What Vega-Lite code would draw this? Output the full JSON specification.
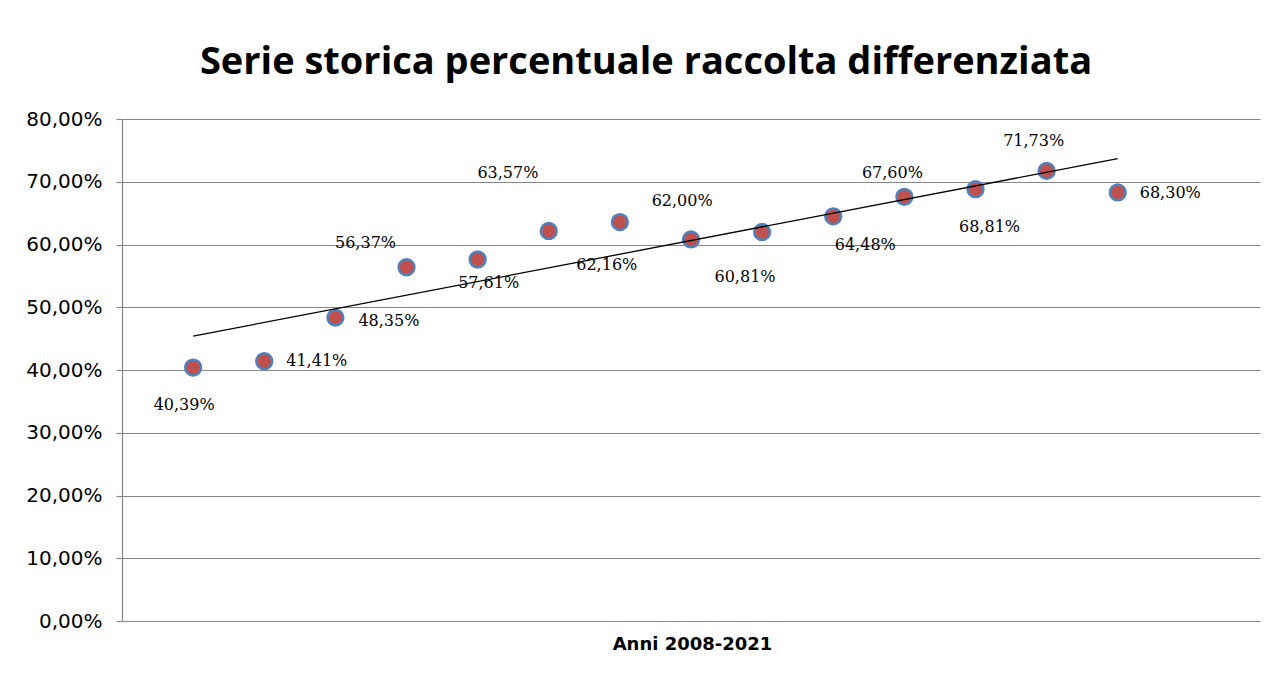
{
  "$schema": "https://vega.github.io/schema/vega-lite/v6.json",
  "width": 1138,
  "height": 502,
  "autosize": "none",
  "padding": {"left": 122, "top": 119, "right": 16, "bottom": 63},
  "background": "white",
  "config": {
    "locale": {"number": {"decimal": ",", "thousands": ".", "grouping": [3], "currency": ["", " €"]}},
    "view": {"stroke": null}
  },
  "title": {
    "text": "Serie storica percentuale raccolta differenziata",
    "font": "Open Sans",
    "fontSize": 38,
    "fontWeight": "bold",
    "color": "black",
    "anchor": "middle",
    "dx": -45,
    "offset": 27
  },
  "data": {
    "values": [
      {"year": 2008, "value": 0.4039},
      {"year": 2009, "value": 0.4141},
      {"year": 2010, "value": 0.4835},
      {"year": 2011, "value": 0.5637},
      {"year": 2012, "value": 0.5761},
      {"year": 2013, "value": 0.6216},
      {"year": 2014, "value": 0.6357},
      {"year": 2015, "value": 0.6081},
      {"year": 2016, "value": 0.6200},
      {"year": 2017, "value": 0.6448},
      {"year": 2018, "value": 0.6760},
      {"year": 2019, "value": 0.6881},
      {"year": 2020, "value": 0.7173},
      {"year": 2021, "value": 0.6830}
    ]
  },
  "encoding": {
    "x": {
      "field": "year",
      "type": "quantitative",
      "scale": {"domain": [2007, 2023], "nice": false, "zero": false},
      "axis": {
        "labels": false, "ticks": false, "grid": false, "domain": false,
        "title": "Anni 2008-2021",
        "titleFont": "DejaVu Sans", "titleFontSize": 18, "titleFontWeight": "bold",
        "titleColor": "black", "titlePadding": 14, "titleX": 570
      }
    },
    "y": {
      "field": "value",
      "type": "quantitative",
      "scale": {"domain": [0, 0.8], "nice": false},
      "axis": {
        "values": [0, 0.1, 0.2, 0.3, 0.4, 0.5, 0.6, 0.7, 0.8],
        "format": ".2%",
        "title": null,
        "grid": true, "gridColor": "#868686", "gridWidth": 1.2,
        "domain": true, "domainColor": "#868686", "domainWidth": 1.2,
        "ticks": true, "tickColor": "#868686", "tickSize": 6, "tickWidth": 1.2,
        "labelFont": "DejaVu Sans", "labelFontSize": 20, "labelColor": "black",
        "labelPadding": 14
      }
    }
  },
  "layer": [
    {
      "mark": {"type": "circle", "size": 250, "fill": "#C0504D", "stroke": "#4F81BD", "strokeWidth": 2.5, "opacity": 1}
    },
    {
      "transform": [{"regression": "value", "on": "year"}],
      "mark": {"type": "line", "color": "black", "strokeWidth": 1.3}
    },
    {"transform": [{"filter": "datum.year == 2008"}], "mark": {"type": "text", "dx": -9, "dy": 37, "font": "DejaVu Serif", "fontSize": 16, "color": "black"}, "encoding": {"text": {"field": "value", "format": ".2%"}}},
    {"transform": [{"filter": "datum.year == 2009"}], "mark": {"type": "text", "align": "left", "dx": 22, "dy": 0, "font": "DejaVu Serif", "fontSize": 16, "color": "black"}, "encoding": {"text": {"field": "value", "format": ".2%"}}},
    {"transform": [{"filter": "datum.year == 2010"}], "mark": {"type": "text", "align": "left", "dx": 23, "dy": 3, "font": "DejaVu Serif", "fontSize": 16, "color": "black"}, "encoding": {"text": {"field": "value", "format": ".2%"}}},
    {"transform": [{"filter": "datum.year == 2011"}], "mark": {"type": "text", "dx": -41, "dy": -24, "font": "DejaVu Serif", "fontSize": 16, "color": "black"}, "encoding": {"text": {"field": "value", "format": ".2%"}}},
    {"transform": [{"filter": "datum.year == 2012"}], "mark": {"type": "text", "dx": 11, "dy": 24, "font": "DejaVu Serif", "fontSize": 16, "color": "black"}, "encoding": {"text": {"field": "value", "format": ".2%"}}},
    {"transform": [{"filter": "datum.year == 2013"}], "mark": {"type": "text", "dx": 58, "dy": 34, "font": "DejaVu Serif", "fontSize": 16, "color": "black"}, "encoding": {"text": {"field": "value", "format": ".2%"}}},
    {"transform": [{"filter": "datum.year == 2014"}], "mark": {"type": "text", "dx": -112, "dy": -49, "font": "DejaVu Serif", "fontSize": 16, "color": "black"}, "encoding": {"text": {"field": "value", "format": ".2%"}}},
    {"transform": [{"filter": "datum.year == 2015"}], "mark": {"type": "text", "dx": 54, "dy": 38, "font": "DejaVu Serif", "fontSize": 16, "color": "black"}, "encoding": {"text": {"field": "value", "format": ".2%"}}},
    {"transform": [{"filter": "datum.year == 2016"}], "mark": {"type": "text", "dx": -80, "dy": -31, "font": "DejaVu Serif", "fontSize": 16, "color": "black"}, "encoding": {"text": {"field": "value", "format": ".2%"}}},
    {"transform": [{"filter": "datum.year == 2017"}], "mark": {"type": "text", "dx": 32, "dy": 29, "font": "DejaVu Serif", "fontSize": 16, "color": "black"}, "encoding": {"text": {"field": "value", "format": ".2%"}}},
    {"transform": [{"filter": "datum.year == 2018"}], "mark": {"type": "text", "dx": -12, "dy": -24, "font": "DejaVu Serif", "fontSize": 16, "color": "black"}, "encoding": {"text": {"field": "value", "format": ".2%"}}},
    {"transform": [{"filter": "datum.year == 2019"}], "mark": {"type": "text", "dx": 14, "dy": 38, "font": "DejaVu Serif", "fontSize": 16, "color": "black"}, "encoding": {"text": {"field": "value", "format": ".2%"}}},
    {"transform": [{"filter": "datum.year == 2020"}], "mark": {"type": "text", "dx": -13, "dy": -30, "font": "DejaVu Serif", "fontSize": 16, "color": "black"}, "encoding": {"text": {"field": "value", "format": ".2%"}}},
    {"transform": [{"filter": "datum.year == 2021"}], "mark": {"type": "text", "align": "left", "dx": 22, "dy": 1, "font": "DejaVu Serif", "fontSize": 16, "color": "black"}, "encoding": {"text": {"field": "value", "format": ".2%"}}}
  ]
}
